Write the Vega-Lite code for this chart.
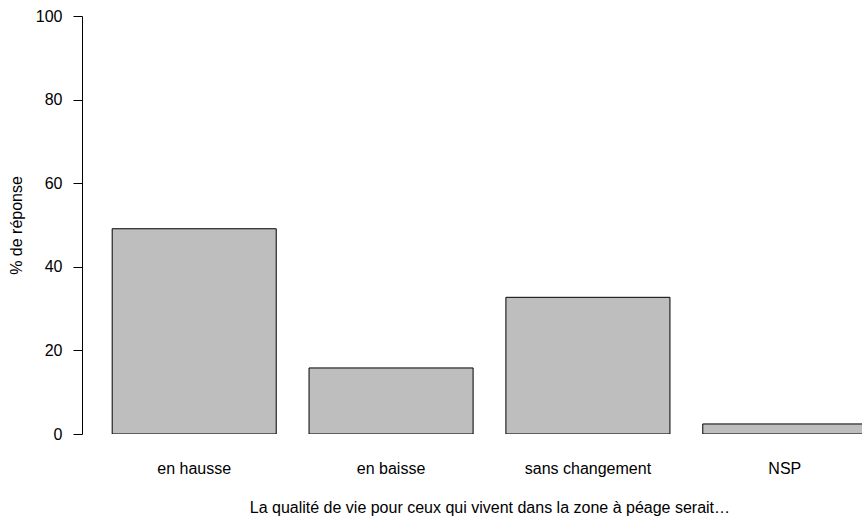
{
  "$schema": "https://vega.github.io/schema/vega-lite/v6.json",
  "autosize": {"type": "none"},
  "padding": {"left": 82, "top": 16, "right": 0, "bottom": 84},
  "width": 780,
  "height": 418,
  "background": "white",
  "config": {
    "view": {"stroke": null},
    "font": "Liberation Sans"
  },
  "data": {
    "values": [
      {"categorie": "en hausse", "pct": 49.1},
      {"categorie": "en baisse", "pct": 15.8},
      {"categorie": "sans changement", "pct": 32.7},
      {"categorie": "NSP", "pct": 2.4}
    ]
  },
  "mark": {"type": "bar", "fill": "#BEBEBE", "stroke": "#000000", "strokeWidth": 1, "clip": true},
  "encoding": {
    "x": {
      "field": "categorie",
      "type": "nominal",
      "sort": null,
      "scale": {"range": [0, 815], "paddingInner": 0.16667, "paddingOuter": 0.1533},
      "axis": {
        "title": "La qualité de vie pour ceux qui vivent dans la zone à péage serait…",
        "domain": false,
        "ticks": false,
        "tickSize": 0,
        "labelAngle": 0,
        "labelPadding": 26,
        "labelFontSize": 16,
        "labelColor": "#000000",
        "labelFont": "Liberation Sans",
        "titleFont": "Liberation Sans",
        "titleFontSize": 16,
        "titleFontWeight": "normal",
        "titleColor": "#000000",
        "titleX": 407.4,
        "titleY": 78,
        "titleAlign": "center",
        "titleBaseline": "alphabetic",
        "grid": false
      }
    },
    "y": {
      "field": "pct",
      "type": "quantitative",
      "scale": {"domain": [0, 100], "nice": false},
      "axis": {
        "title": "% de réponse",
        "values": [0, 20, 40, 60, 80, 100],
        "grid": false,
        "domainColor": "#000000",
        "tickColor": "#000000",
        "tickSize": 9,
        "labelPadding": 11,
        "labelFontSize": 16,
        "labelColor": "#000000",
        "labelFont": "Liberation Sans",
        "labelBaseline": "middle",
        "titleFont": "Liberation Sans",
        "titleFontSize": 16,
        "titleFontWeight": "normal",
        "titleColor": "#000000",
        "titleAngle": -90,
        "titleX": -66,
        "titleY": 209,
        "titleAlign": "center",
        "titleBaseline": "middle"
      }
    }
  }
}
